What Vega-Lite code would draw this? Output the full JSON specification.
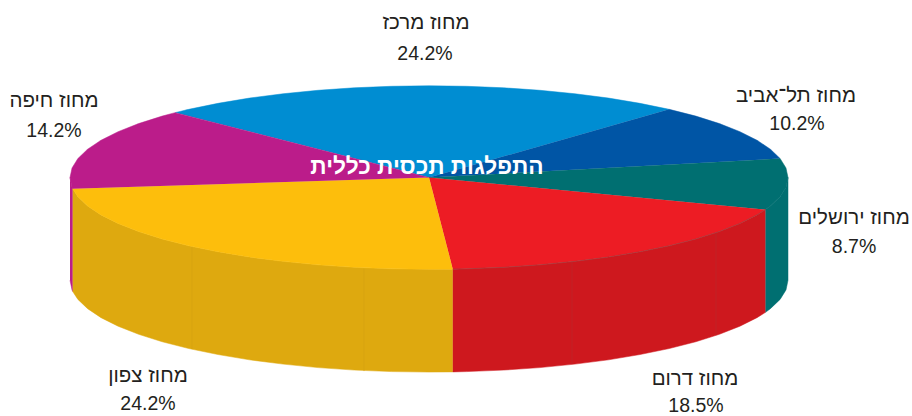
{"$schema":"https://vega.github.io/schema/vega-lite/v6.json","width":912,"height":416,"padding":0,"autosize":{"type":"fit","contains":"padding"},"background":"white","view":{"stroke":null},
"datasets":{
"sides":[
{"s":"purple","x":70,"y":178},{"s":"purple","x":72,"y":187.6},{"s":"purple","x":72.7,"y":189.2},{"s":"purple","x":72.7,"y":292.2},{"s":"purple","x":72,"y":290.6},{"s":"purple","x":70,"y":281},
{"s":"yellowSide","x":72.7,"y":189.2},{"s":"yellowSide","x":77.9,"y":197.1},{"s":"yellowSide","x":87.6,"y":206.4},{"s":"yellowSide","x":101,"y":215.4},{"s":"yellowSide","x":118.1,"y":224},{"s":"yellowSide","x":138.6,"y":232.1},{"s":"yellowSide","x":162.2,"y":239.6},{"s":"yellowSide","x":188.8,"y":246.4},{"s":"yellowSide","x":218,"y":252.4},{"s":"yellowSide","x":249.5,"y":257.7},{"s":"yellowSide","x":283,"y":262},{"s":"yellowSide","x":318.1,"y":265.5},{"s":"yellowSide","x":354.4,"y":268},{"s":"yellowSide","x":391.5,"y":269.5},{"s":"yellowSide","x":429,"y":270},{"s":"yellowSide","x":452.8,"y":269.8},
{"s":"yellowSide","x":452.8,"y":372.8},{"s":"yellowSide","x":429,"y":373},{"s":"yellowSide","x":391.5,"y":372.5},{"s":"yellowSide","x":354.4,"y":371},{"s":"yellowSide","x":318.1,"y":368.5},{"s":"yellowSide","x":283,"y":365},{"s":"yellowSide","x":249.5,"y":360.7},{"s":"yellowSide","x":218,"y":355.4},{"s":"yellowSide","x":188.8,"y":349.4},{"s":"yellowSide","x":162.2,"y":342.6},{"s":"yellowSide","x":138.6,"y":335.1},{"s":"yellowSide","x":118.1,"y":327},{"s":"yellowSide","x":101,"y":318.4},{"s":"yellowSide","x":87.6,"y":309.4},{"s":"yellowSide","x":77.9,"y":300.1},{"s":"yellowSide","x":72.7,"y":292.2},
{"s":"redSide","x":452.8,"y":269.8},{"s":"redSide","x":466.5,"y":269.5},{"s":"redSide","x":503.6,"y":268},{"s":"redSide","x":539.9,"y":265.5},{"s":"redSide","x":575,"y":262},{"s":"redSide","x":608.5,"y":257.7},{"s":"redSide","x":640,"y":252.4},{"s":"redSide","x":669.2,"y":246.4},{"s":"redSide","x":695.8,"y":239.6},{"s":"redSide","x":719.4,"y":232.1},{"s":"redSide","x":739.9,"y":224},{"s":"redSide","x":757,"y":215.4},{"s":"redSide","x":765.5,"y":210.1},
{"s":"redSide","x":765.5,"y":313.1},{"s":"redSide","x":757,"y":318.4},{"s":"redSide","x":739.9,"y":327},{"s":"redSide","x":719.4,"y":335.1},{"s":"redSide","x":695.8,"y":342.6},{"s":"redSide","x":669.2,"y":349.4},{"s":"redSide","x":640,"y":355.4},{"s":"redSide","x":608.5,"y":360.7},{"s":"redSide","x":575,"y":365},{"s":"redSide","x":539.9,"y":368.5},{"s":"redSide","x":503.6,"y":371},{"s":"redSide","x":466.5,"y":372.5},{"s":"redSide","x":452.8,"y":372.8},
{"s":"teal","x":765.5,"y":210.1},{"s":"teal","x":770.4,"y":206.4},{"s":"teal","x":780.1,"y":197.1},{"s":"teal","x":786,"y":187.6},{"s":"teal","x":788,"y":178},{"s":"teal","x":788,"y":281},{"s":"teal","x":786,"y":290.6},{"s":"teal","x":780.1,"y":300.1},{"s":"teal","x":770.4,"y":309.4},{"s":"teal","x":765.5,"y":313.1}
],
"tops":[
{"s":"blue","x":429,"y":178},{"s":"blue","x":669.2,"y":109.6},{"s":"blue","x":640,"y":103.6},{"s":"blue","x":608.5,"y":98.3},{"s":"blue","x":575,"y":94},{"s":"blue","x":539.9,"y":90.5},{"s":"blue","x":503.6,"y":88},{"s":"blue","x":466.5,"y":86.5},{"s":"blue","x":429,"y":86},{"s":"blue","x":391.5,"y":86.5},{"s":"blue","x":354.4,"y":88},{"s":"blue","x":318.1,"y":90.5},{"s":"blue","x":283,"y":94},{"s":"blue","x":249.5,"y":98.3},{"s":"blue","x":218,"y":103.6},{"s":"blue","x":188.8,"y":109.6},{"s":"blue","x":175.1,"y":112.9},
{"s":"navy","x":429,"y":178},{"s":"navy","x":780.1,"y":158.9},{"s":"navy","x":770.4,"y":149.6},{"s":"navy","x":757,"y":140.6},{"s":"navy","x":739.9,"y":132},{"s":"navy","x":719.4,"y":123.9},{"s":"navy","x":695.8,"y":116.4},{"s":"navy","x":669.2,"y":109.6},
{"s":"teal","x":429,"y":178},{"s":"teal","x":765.5,"y":210.1},{"s":"teal","x":770.4,"y":206.4},{"s":"teal","x":780.1,"y":197.1},{"s":"teal","x":786,"y":187.6},{"s":"teal","x":788,"y":178},{"s":"teal","x":786,"y":168.4},{"s":"teal","x":780.1,"y":158.9},
{"s":"red","x":429,"y":178},{"s":"red","x":452.8,"y":269.8},{"s":"red","x":466.5,"y":269.5},{"s":"red","x":503.6,"y":268},{"s":"red","x":539.9,"y":265.5},{"s":"red","x":575,"y":262},{"s":"red","x":608.5,"y":257.7},{"s":"red","x":640,"y":252.4},{"s":"red","x":669.2,"y":246.4},{"s":"red","x":695.8,"y":239.6},{"s":"red","x":719.4,"y":232.1},{"s":"red","x":739.9,"y":224},{"s":"red","x":757,"y":215.4},{"s":"red","x":765.5,"y":210.1},
{"s":"yellow","x":429,"y":178},{"s":"yellow","x":72.7,"y":189.2},{"s":"yellow","x":77.9,"y":197.1},{"s":"yellow","x":87.6,"y":206.4},{"s":"yellow","x":101,"y":215.4},{"s":"yellow","x":118.1,"y":224},{"s":"yellow","x":138.6,"y":232.1},{"s":"yellow","x":162.2,"y":239.6},{"s":"yellow","x":188.8,"y":246.4},{"s":"yellow","x":218,"y":252.4},{"s":"yellow","x":249.5,"y":257.7},{"s":"yellow","x":283,"y":262},{"s":"yellow","x":318.1,"y":265.5},{"s":"yellow","x":354.4,"y":268},{"s":"yellow","x":391.5,"y":269.5},{"s":"yellow","x":429,"y":270},{"s":"yellow","x":452.8,"y":269.8},
{"s":"purple","x":429,"y":178},{"s":"purple","x":175.1,"y":112.9},{"s":"purple","x":162.2,"y":116.4},{"s":"purple","x":138.6,"y":123.9},{"s":"purple","x":118.1,"y":132},{"s":"purple","x":101,"y":140.6},{"s":"purple","x":87.6,"y":149.6},{"s":"purple","x":77.9,"y":158.9},{"s":"purple","x":72,"y":168.4},{"s":"purple","x":70,"y":178},{"s":"purple","x":72,"y":187.6},{"s":"purple","x":72.7,"y":189.2}
],
"rim":[
{"x":452.8,"y":269.8},{"x":466.5,"y":269.5},{"x":503.6,"y":268},{"x":539.9,"y":265.5},{"x":575,"y":262},{"x":608.5,"y":257.7},{"x":640,"y":252.4},{"x":669.2,"y":246.4},{"x":695.8,"y":239.6},{"x":719.4,"y":232.1},{"x":739.9,"y":224},{"x":757,"y":215.4},{"x":765.5,"y":210.1}
],
"seams":[
{"s":"yellowSeam","x":192,"y":247,"y2":350},{"s":"yellowSeam","x":364,"y":269,"y2":372},{"s":"redSeam","x":572,"y":262,"y2":365},{"s":"redSeam","x":716,"y":233,"y2":336}
],
"names":[
{"t":"מחוז מרכז","x":426,"y":23},
{"t":"מחוז תל־אביב","x":796,"y":96},
{"t":"מחוז ירושלים","x":854,"y":219},
{"t":"מחוז דרום","x":695,"y":380},
{"t":"מחוז צפון","x":148,"y":377},
{"t":"מחוז חיפה","x":54,"y":101}
],
"pcts":[
{"t":"24.2%","x":425,"y":54},
{"t":"10.2%","x":797,"y":124},
{"t":"8.7%","x":854,"y":248},
{"t":"18.5%","x":696,"y":407},
{"t":"24.2%","x":148,"y":405},
{"t":"14.2%","x":54,"y":131}
],
"title":[{"t":"התפלגות תכסית כללית","x":427,"y":167}]
},
"encoding":{
"x":{"field":"x","type":"quantitative","axis":null,"scale":{"domain":[0,912],"nice":false,"zero":false}},
"y":{"field":"y","type":"quantitative","axis":null,"scale":{"domain":[416,0],"nice":false,"zero":false}}
},
"layer":[
{"data":{"name":"sides"},"mark":{"type":"line","filled":true,"strokeWidth":0.5},
"encoding":{"order":{"value":null},"detail":{"field":"s"},
"fill":{"field":"s","type":"nominal","legend":null,"scale":{"domain":["blue","navy","teal","red","yellow","purple","yellowSide","redSide"],"range":["#008DD2","#0055A5","#006F71","#ED1C24","#FDBE0C","#BB1C8A","#DEA90F","#CE181E"]}},
"stroke":{"field":"s","type":"nominal","legend":null,"scale":{"domain":["blue","navy","teal","red","yellow","purple","yellowSide","redSide"],"range":["#008DD2","#0055A5","#006F71","#ED1C24","#FDBE0C","#BB1C8A","#DEA90F","#CE181E"]}}}},
{"data":{"name":"seams"},"mark":{"type":"rule","strokeWidth":0.8,"opacity":0.8},
"encoding":{"y2":{"field":"y2"},"color":{"field":"s","type":"nominal","legend":null,"scale":{"domain":["yellowSeam","redSeam"],"range":["#D4A212","#B92A2E"]}}}},
{"data":{"name":"tops"},"mark":{"type":"line","filled":true,"strokeWidth":0.5},
"encoding":{"order":{"value":null},"detail":{"field":"s"},
"fill":{"field":"s","type":"nominal","legend":null,"scale":{"domain":["blue","navy","teal","red","yellow","purple","yellowSide","redSide"],"range":["#008DD2","#0055A5","#006F71","#ED1C24","#FDBE0C","#BB1C8A","#DEA90F","#CE181E"]}},
"stroke":{"field":"s","type":"nominal","legend":null,"scale":{"domain":["blue","navy","teal","red","yellow","purple","yellowSide","redSide"],"range":["#008DD2","#0055A5","#006F71","#ED1C24","#FDBE0C","#BB1C8A","#DEA90F","#CE181E"]}}}},
{"data":{"name":"rim"},"mark":{"type":"line","color":"#7A4A4A","strokeWidth":0.7,"opacity":0.7},"encoding":{"order":{"value":null}}},
{"data":{"name":"names"},"mark":{"type":"text","font":"Liberation Sans","fontSize":20.5,"align":"center","baseline":"middle","color":"#231F20"},"encoding":{"text":{"field":"t"}}},
{"data":{"name":"pcts"},"mark":{"type":"text","font":"Liberation Sans","fontSize":19.5,"align":"center","baseline":"middle","color":"#231F20"},"encoding":{"text":{"field":"t"}}},
{"data":{"name":"title"},"mark":{"type":"text","font":"Liberation Sans","fontWeight":"bold","fontSize":22.7,"align":"center","baseline":"middle","color":"white"},"encoding":{"text":{"field":"t"}}}
],
"resolve":{"scale":{"color":"independent"}}
}
